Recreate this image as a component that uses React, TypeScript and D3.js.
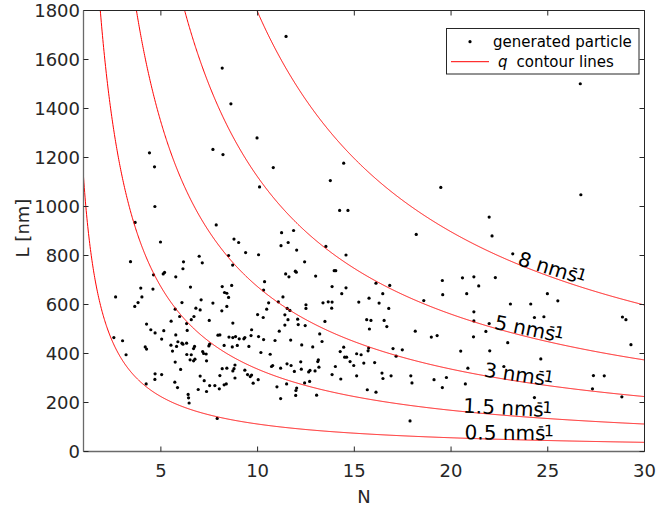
import React from 'react';
import * as d3 from 'd3';

// Generated particles: number of units N and length L [nm]
const particleN = [
  3.67, 7.86, 4.98, 8.5, 3.43, 6.98, 7.14, 6.17, 6.14, 4.62, 5.12, 5.19, 5.77, 3.96, 4.59, 6.53, 2.66, 4.02, 3.65, 3.82,
  6.09, 7.08, 7.69, 8.17, 8.29, 8.41, 8.66, 8.5, 6.81, 7.03, 5.74, 5.97, 5.53, 6.57, 6.71, 7.5, 8.15, 8.41, 4.26, 4.48,
  4.7, 5.15, 5.04, 6.33, 5.77, 6.36, 2.57, 3.02, 3.2, 4.19, 4.26, 5.88, 5.52, 5.81, 6.09, 6.14, 6.33, 5.6, 6.69, 6.74,
  7.48, 7.52, 7.95, 8.05, 8.27, 8.52, 8.69, 6.34, 6.57, 7.16, 7.21, 7.34, 6.76, 6.69, 6.51, 7.36, 5.74, 6.02, 7.03, 7.24,
  7.52, 7.79, 8.02, 8.05, 8.17, 8.41, 8.27, 8.38, 6.93, 7.36, 5.72, 5.86, 6.41, 6.43, 6.46, 4.7, 5.04, 4.69, 4.24, 7.91,
  11.24, 11.86, 11.21, 11.58, 8.78, 9.02, 9.38, 10.05, 12.02, 13.53, 14.57, 12.43, 8.71, 11.45, 11.62, 11.95, 12.0, 13.0, 13.96, 14.04,
  10.36, 10.31, 13.85, 14.57, 14.35, 11.31, 11.07, 10.57, 10.47, 10.0, 10.29, 11.53, 11.67, 12.5, 12.5, 13.38, 13.65, 13.85, 13.83, 15.23,
  15.76, 11.41, 11.57, 12.07, 12.1, 12.46, 11.41, 13.48, 11.12, 10.9, 11.71, 13.21, 13.33, 12.28, 12.85, 8.72, 9.69, 9.66, 8.72, 8.86,
  9.05, 9.29, 9.34, 10.05, 10.31, 9.55, 8.95, 10.17, 10.65, 14.27, 14.45, 14.5, 14.6, 14.78, 14.97, 15.12, 15.35, 15.49, 15.74, 15.71,
  15.64, 15.86, 15.78, 16.05, 8.83, 8.78, 8.72, 8.83, 9.34, 9.48, 9.62, 9.69, 9.77, 10.03, 10.72, 10.78, 11.19, 11.52, 11.73, 11.9,
  12.23, 12.26, 12.64, 12.71, 12.97, 13.14, 13.11, 13.17, 13.85, 14.02, 14.3, 15.12, 11.0, 11.5, 12.02, 11.98, 11.97, 11.19, 12.43, 12.69,
  13.05, 15.67,
  19.47, 21.97, 22.12, 18.2, 23.19, 16.12, 16.83, 16.47, 16.28, 16.78, 16.54, 16.68, 18.59, 19.55, 19.57, 20.59, 21.18, 21.43, 22.29, 20.81,
  21.18, 21.18, 21.97, 23.07, 18.15, 18.98, 19.28, 21.16, 21.8, 17.0, 17.48, 17.16, 20.5, 22.0, 22.93, 16.43, 16.48, 16.9, 17.92, 17.98,
  19.12, 19.55, 19.76, 20.74, 20.87, 22.73, 16.12, 17.88,
  26.68, 26.71, 24.98, 25.52, 24.12, 24.31, 24.8, 28.86, 29.04, 29.3, 24.64, 27.36, 27.92, 27.31, 24.31, 28.83,
  14.45, 13.76, 14.24, 14.67,
  11.47, 8.17, 8.62, 4.41, 4.67, 7.69, 8.21, 9.97, 10.81, 10.1, 4.69,
];
const particleL = [
  935, 925, 855, 800, 775, 797, 770, 774, 746, 721, 725, 731, 713, 667, 663, 671, 631, 631, 592, 608,
  608, 619, 606, 673, 649, 646, 678, 629, 585, 578, 581, 551, 532, 538, 551, 535, 574, 592, 520, 497,
  484, 493, 459, 522, 476, 494, 465, 452, 395, 427, 418, 448, 434, 429, 442, 438, 442, 410, 420, 429,
  431, 438, 475, 476, 433, 467, 427, 396, 395, 408, 400, 398, 377, 370, 374, 370, 365, 335, 308, 289,
  269, 269, 256, 310, 338, 340, 272, 276, 253, 245, 283, 261, 233, 219, 198, 317, 314, 294, 276, 135,
  893, 902, 840, 853, 867, 853, 812, 803, 822, 837, 802, 774, 761, 725, 713, 736, 732, 716, 738, 738,
  693, 659, 673, 668, 644, 631, 611, 607, 581, 559, 547, 584, 576, 599, 584, 607, 611, 610, 585, 610,
  626, 558, 538, 540, 518, 514, 516, 531, 491, 453, 455, 480, 449, 435, 427, 524, 497, 473, 465, 469,
  460, 460, 465, 469, 457, 429, 433, 404, 397, 408, 426, 385, 385, 367, 351, 399, 395, 361, 422, 411,
  538, 535, 500, 363, 353, 338, 329, 300, 332, 314, 306, 312, 279, 293, 347, 351, 340, 358, 351, 327,
  366, 336, 325, 331, 329, 374, 367, 344, 314, 347, 296, 309, 264, 276, 259, 249, 229, 216, 280, 286,
  230, 252,
  1078, 957, 880, 886, 807, 687, 678, 644, 606, 584, 535, 510, 616, 698, 640, 709, 713, 676, 710, 644,
  570, 533, 522, 602, 491, 467, 473, 468, 490, 420, 415, 389, 410, 411, 444, 320, 298, 309, 309, 280,
  293, 261, 302, 276, 340, 347, 242, 125,
  1501, 1048, 644, 615, 602, 547, 550, 549, 538, 436, 378, 310, 309, 256, 220, 223,
  1177, 1106, 984, 984,
  1694, 1565, 1419, 1219, 1162, 1233, 1212, 1280, 1159, 1080, 1000,
];

// q contour lines: L = q * contourK / N
const qValues = [0.5, 1.5, 3, 5, 8];
const qLabels = ['0.5', '1.5', '3', '5', '8'];
const contourK = 2242;
const labelN = [20.7, 20.61, 21.66, 22.2, 23.39];
const labelAngle = [0.7, 3, 8.5, 11.5, 17];

const xTicks = [5, 10, 15, 20, 25, 30];
const yTicks = [0, 200, 400, 600, 800, 1000, 1200, 1400, 1600, 1800];

const FONT = "'DejaVu Sans', Verdana, sans-serif";
const AX = '#262626';

export default function App() {
  const W = 656;
  const H = 508;
  const x = d3.scaleLinear().domain([1, 30]).range([83.5, 644.5]);
  const y = d3.scaleLinear().domain([0, 1800]).range([451.5, 10.5]);
  const [x0, x1] = x.range();
  const [y0, y1] = y.range();
  const Ns = d3.range(1, 30.0001, 0.02);
  const tick = 5;

  return (
    <svg
      width={W}
      height={H}
      viewBox={`0 0 ${W} ${H}`}
      style={{ position: 'absolute', left: 0, top: 0, background: '#fff' }}
      fontFamily={FONT}
    >
      <defs>
        <clipPath id="plotClip">
          <rect x={x0} y={y1} width={x1 - x0} height={y0 - y1} />
        </clipPath>
      </defs>
      <rect x={0} y={0} width={W} height={H} fill="#fff" />

      {/* particles */}
      <g fill="#000">
        {particleN.map((n, i) => (
          <circle key={i} cx={x(n)} cy={y(particleL[i])} r={1.6} />
        ))}
      </g>

      {/* contour lines */}
      <g clipPath="url(#plotClip)" fill="none" stroke="#ff0000" strokeWidth={1}>
        {qValues.map((q) => {
          const pts = Ns.map((n) => [x(n), y((q * contourK) / n)] as [number, number]);
          const path = d3.line()(pts);
          return <path key={q} d={path || ''} />;
        })}
      </g>

      {/* contour labels */}
      <g fill="#000" fontSize={20}>
        {qValues.map((q, i) => {
          const n = labelN[i];
          const px = x(n);
          const py = y((q * contourK) / n) + 1;
          return (
            <text key={q} transform={`translate(${px},${py}) rotate(${labelAngle[i]})`}>
              {qLabels[i]} nms
              <tspan fontSize={16} dx={-7.5} dy={-9}>-</tspan>
              <tspan fontSize={16} dy={5}>1</tspan>
            </text>
          );
        })}
      </g>

      {/* axes box */}
      <g stroke={AX} strokeWidth={1} fill="none">
        <line x1={x0} x2={x1} y1={y1} y2={y1} />
        <line x1={x1} x2={x1} y1={y1} y2={y0} />
      </g>
      <g stroke="#6a6a6a" strokeWidth={1.3} fill="none">
        <line x1={x0} x2={x1} y1={y0} y2={y0} />
        <line x1={x0} x2={x0} y1={y1} y2={y0} />
      </g>

      {/* ticks */}
      <g stroke={AX} strokeWidth={1}>
        {xTicks.map((t) => (
          <g key={'xt' + t}>
            <line x1={x(t)} x2={x(t)} y1={y0} y2={y0 - tick} />
            <line x1={x(t)} x2={x(t)} y1={y1} y2={y1 + tick} />
          </g>
        ))}
        {yTicks.map((t) => (
          <g key={'yt' + t}>
            <line x1={x0} x2={x0 + tick} y1={y(t)} y2={y(t)} />
            <line x1={x1} x2={x1 - tick} y1={y(t)} y2={y(t)} />
          </g>
        ))}
      </g>

      {/* tick labels */}
      <g fill={AX} fontSize={18}>
        {xTicks.map((t) => (
          <text key={'xl' + t} x={x(t)} y={477} textAnchor="middle">
            {t}
          </text>
        ))}
        {yTicks.map((t) => (
          <text key={'yl' + t} x={80} y={y(t) + 6.6} textAnchor="end">
            {t}
          </text>
        ))}
      </g>

      {/* axis labels */}
      <text x={(x0 + x1) / 2} y={502.5} textAnchor="middle" fontSize={18} fill={AX}>
        N
      </text>
      <text
        transform={`translate(29,${(y0 + y1) / 2 - 3}) rotate(-90)`}
        textAnchor="middle"
        fontSize={18}
        fill={AX}
      >
        L [nm]
      </text>

      {/* legend */}
      <g>
        <rect x={446.5} y={28.5} width={192.5} height={45.5} fill="#fff" stroke={AX} strokeWidth={1} />
        <circle cx={470} cy={41.7} r={1.6} fill="#000" />
        <line x1={451} x2={489} y1={61.7} y2={61.7} stroke="#ff0000" strokeWidth={1} />
        <text x={493} y={46.7} fontSize={15} fill="#000">
          generated particle
        </text>
        <text x={498} y={66.7} fontSize={15} fill="#000">
          <tspan fontStyle="italic">q</tspan>
          <tspan dx={9}>contour lines</tspan>
        </text>
      </g>
    </svg>
  );
}
